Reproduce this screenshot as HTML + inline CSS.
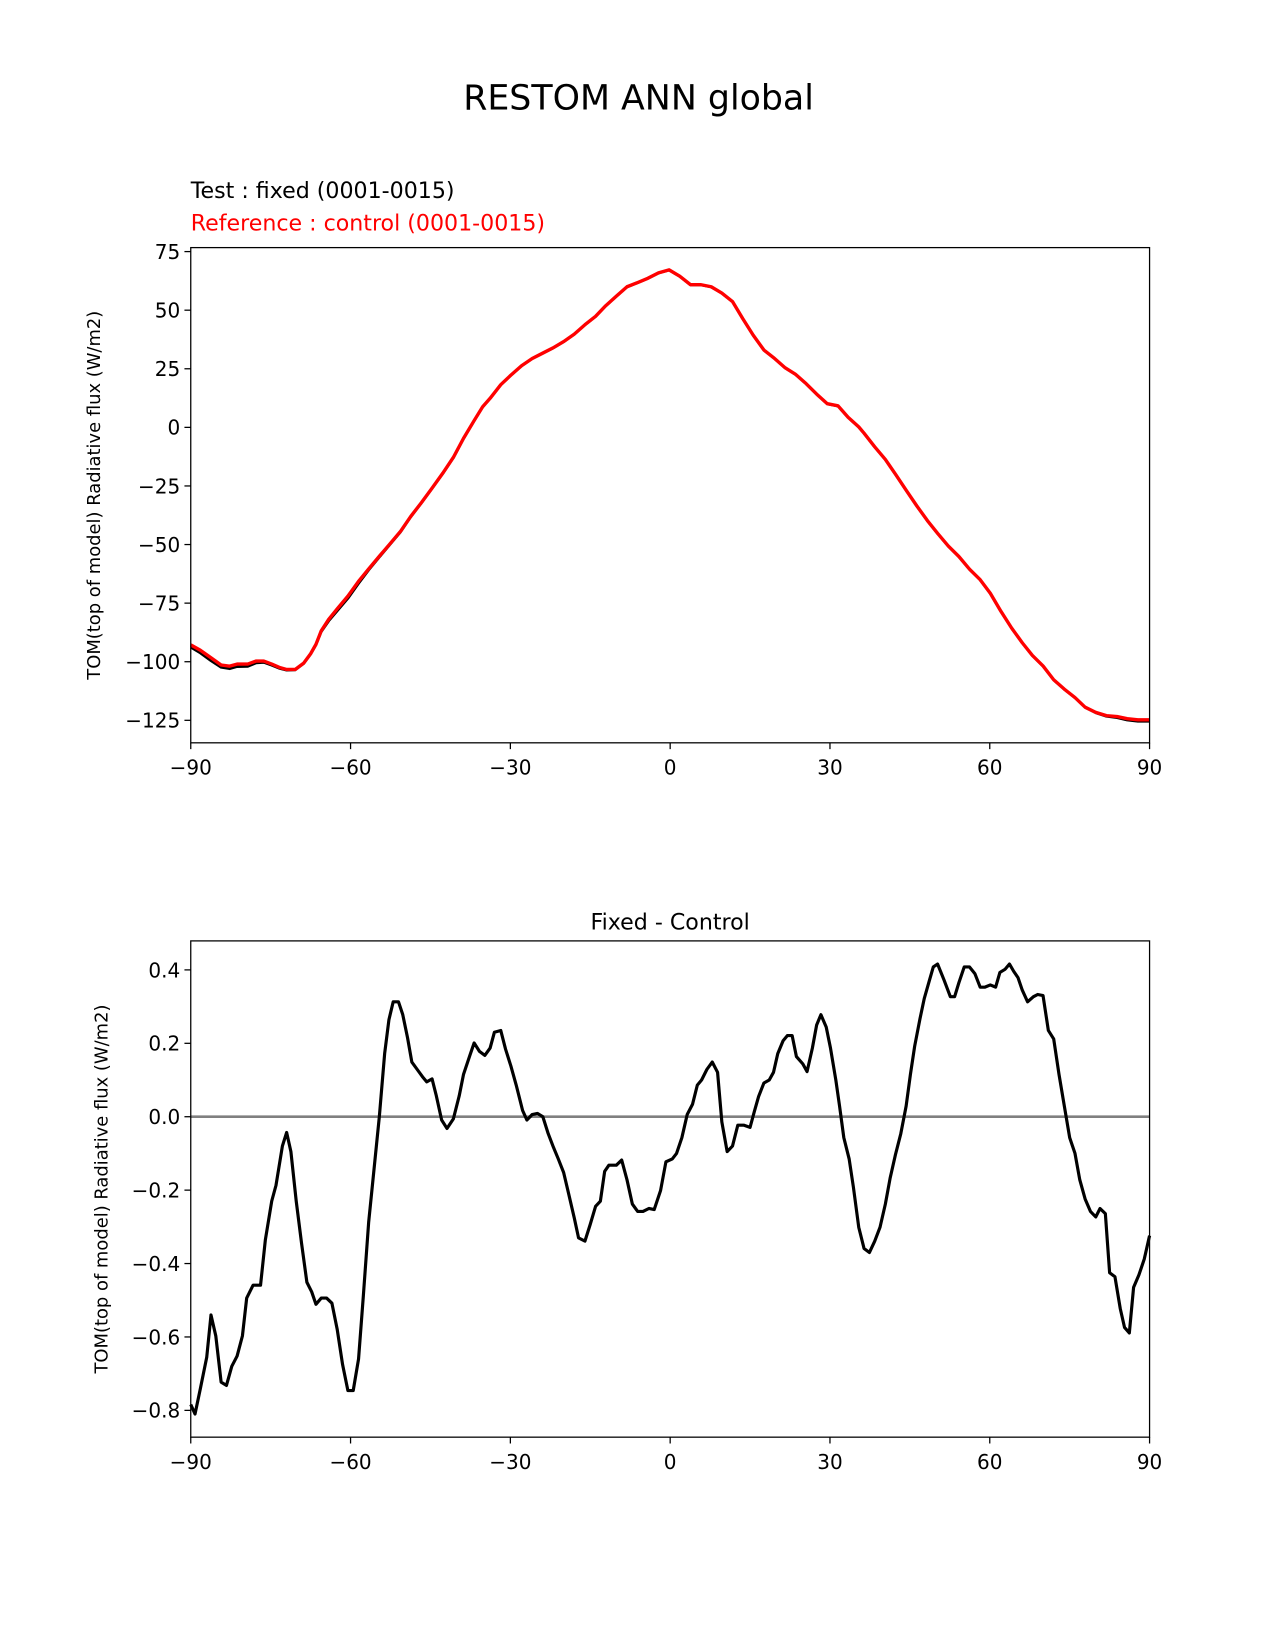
<!DOCTYPE html>
<html><head><meta charset="utf-8"><style>
html,body{margin:0;padding:0;background:#fff;}
svg{display:block;font-family:"DejaVu Sans","Liberation Sans",sans-serif;}
</style></head><body>
<svg id="fig" width="1275" height="1650" viewBox="0 0 1210 1566" xmlns="http://www.w3.org/2000/svg">
<rect width="1210" height="1566" fill="#fff"/>
<text x="606" y="104" font-size="33" text-anchor="middle">RESTOM ANN global</text>
<text x="181" y="188" font-size="21">Test : fixed (0001-0015)</text>
<text x="181" y="219" font-size="21" fill="#ff0000">Reference : control (0001-0015)</text>
<text x="636" y="882" font-size="21" text-anchor="middle">Fixed - Control</text>
<g id="top"></g>
<g id="bot"></g>
</svg>
<script>
const topLat=[-90,-88.2,-86.2,-84.3,-82.7,-81.3,-79.3,-77.7,-76.3,-74.8,-73.4,-72,-70.4,-68.8,-67.5,-66.5,-65.5,-64.1,-62.5,-60.5,-58.5,-56.6,-54.6,-52.6,-50.6,-48.7,-46.7,-44.7,-42.7,-40.7,-38.8,-36.8,-35.2,-33.8,-31.8,-29.9,-27.9,-25.9,-23.9,-22,-20,-18,-16,-14,-12.1,-10.1,-8.1,-6.1,-4.2,-2.2,-0.2,1.8,3.8,5.7,7.7,9.7,11.7,13.6,15.6,17.6,19.6,21.6,23.5,25.5,27.5,29.5,31.5,33.4,35.4,36.4,38.4,40.4,42.3,44.3,46.3,48.3,50.2,52.2,54.2,56.2,58.2,60.1,62.1,64.1,66.1,68,70,72,74,76,77.9,79.9,81.9,83.9,85.8,87.8,90];
const refVals=[-92.8,-95.1,-98.3,-101.4,-101.9,-101,-101,-99.7,-99.7,-101,-102.4,-103.3,-103.3,-100.6,-96.6,-92.6,-86.8,-81.9,-77.4,-72,-65.7,-60.4,-55,-49.7,-44.3,-38,-32.1,-25.9,-19.6,-12.8,-4.7,2.9,8.8,12.4,18.2,22.3,26.3,29.4,31.7,33.9,36.6,39.8,43.8,47.4,51.9,56,60,61.8,63.6,65.9,67.2,64.5,60.9,60.9,60,57.3,53.7,46.5,39.3,33,29.4,25.4,22.7,18.7,14.2,10.1,9.2,4.3,0.2,-2.5,-8.3,-13.7,-20,-26.8,-33.5,-39.8,-45.2,-50.6,-55.1,-60.5,-65,-70.8,-78.5,-85.6,-91.9,-97.3,-101.8,-107.7,-111.7,-115.3,-119.4,-121.6,-123,-123.4,-124.3,-124.8,-124.8];
const testVals=[-93.8,-96.3,-99.6,-102.4,-103,-102.1,-102,-100.5,-100.3,-101.5,-102.8,-103.6,-103.5,-100.8,-96.8,-92.8,-87.2,-82.6,-78.3,-73,-66.6,-60.9,-55.4,-50,-44.6,-38.2,-32.3,-26.1,-19.8,-13,-4.9,2.8,8.7,12.3,18.1,22.2,26.2,29.3,31.6,33.8,36.5,39.7,43.7,47.3,51.8,55.9,59.9,61.7,63.5,65.8,67.1,64.4,60.8,60.8,59.9,57.2,53.6,46.4,39.2,32.9,29.3,25.3,22.6,18.6,14.1,10,9.1,4.2,0.1,-2.6,-8.4,-13.8,-20.1,-26.9,-33.6,-39.9,-45.3,-50.7,-55.2,-60.6,-65.1,-70.9,-78.6,-85.7,-92,-97.4,-101.9,-107.8,-111.8,-115.4,-119.5,-121.8,-123.3,-123.9,-124.9,-125.4,-125.4];
const botLat=[-90,-89.2,-88.2,-87,-86.2,-85.3,-84.3,-83.3,-82.3,-81.3,-80.3,-79.5,-78.3,-76.9,-76,-74.8,-74,-72.8,-72,-71.2,-70.2,-69.2,-68.2,-67.3,-66.5,-65.5,-64.5,-63.5,-62.5,-61.5,-60.5,-59.5,-58.5,-57.6,-56.6,-55.6,-54.6,-53.6,-52.8,-52,-51,-50.2,-49.3,-48.5,-47.5,-46.5,-45.7,-44.7,-43.9,-42.9,-41.9,-40.7,-39.6,-38.8,-37.6,-36.8,-35.8,-34.8,-33.8,-33,-31.8,-30.9,-29.9,-28.9,-27.7,-26.9,-25.9,-24.9,-23.9,-22.9,-22,-21,-20,-19.2,-18,-17.2,-16,-15,-14,-13.1,-12.3,-11.5,-10.1,-9.1,-8.1,-7.1,-6.1,-5.1,-4,-3,-1.8,-0.8,0.4,1.2,2.2,3.2,4.2,5.1,5.9,6.9,7.9,8.9,9.7,10.7,11.7,12.7,13.8,15,15.8,16.6,17.6,18.6,19.4,20.2,21.2,22,22.9,23.7,24.9,25.7,26.7,27.5,28.3,29.3,30.1,31.1,31.8,32.6,33.6,34.4,35.4,36.4,37.4,38.4,39.4,40.4,41.3,42.3,43.3,44.3,45.1,45.9,46.9,47.7,48.7,49.4,50.2,51.4,52.6,53.4,54.2,55.2,56.2,57.2,58.2,59.1,60.1,61.1,61.9,62.9,63.7,64.5,65.3,66.1,67.1,68.2,69,70,71,72,73,74,75,76,76.9,77.9,78.9,79.9,80.7,81.7,82.5,83.5,84.5,85.3,86.2,87,88,89,90];
const diffVals=[-0.784,-0.81,-0.741,-0.655,-0.54,-0.597,-0.723,-0.732,-0.68,-0.652,-0.597,-0.494,-0.459,-0.459,-0.336,-0.23,-0.187,-0.08,-0.043,-0.095,-0.23,-0.345,-0.451,-0.477,-0.511,-0.494,-0.494,-0.508,-0.58,-0.675,-0.746,-0.746,-0.66,-0.488,-0.287,-0.144,0,0.172,0.264,0.313,0.313,0.278,0.215,0.149,0.129,0.109,0.095,0.103,0.057,-0.009,-0.032,-0.006,0.057,0.115,0.167,0.201,0.178,0.167,0.187,0.23,0.235,0.184,0.138,0.086,0.017,-0.009,0.006,0.009,0,-0.046,-0.08,-0.115,-0.152,-0.201,-0.276,-0.33,-0.339,-0.293,-0.244,-0.23,-0.149,-0.132,-0.132,-0.118,-0.172,-0.238,-0.258,-0.258,-0.25,-0.253,-0.201,-0.123,-0.115,-0.1,-0.057,0.006,0.034,0.086,0.1,0.129,0.149,0.121,-0.014,-0.095,-0.08,-0.023,-0.023,-0.029,0.014,0.055,0.092,0.1,0.121,0.172,0.207,0.221,0.221,0.164,0.144,0.123,0.187,0.25,0.278,0.244,0.187,0.1,0.029,-0.057,-0.115,-0.192,-0.301,-0.359,-0.37,-0.339,-0.301,-0.238,-0.167,-0.103,-0.046,0.029,0.115,0.192,0.267,0.322,0.373,0.408,0.416,0.373,0.327,0.327,0.365,0.408,0.408,0.39,0.353,0.353,0.359,0.353,0.393,0.402,0.416,0.396,0.379,0.345,0.313,0.327,0.333,0.33,0.235,0.212,0.115,0.029,-0.057,-0.1,-0.172,-0.224,-0.258,-0.273,-0.25,-0.264,-0.425,-0.436,-0.523,-0.574,-0.589,-0.465,-0.431,-0.388,-0.324];
const xTicks=[-90,-60,-30,0,30,60,90];
const xTickLabels=["\u221290","\u221260","\u221230","0","30","60","90"];
const topYTicks=[75,50,25,0,-25,-50,-75,-100,-125];
const topYTickLabels=["75","50","25","0","\u221225","\u221250","\u221275","\u2212100","\u2212125"];
const botYTicks=[0.4,0.2,0,-0.2,-0.4,-0.6,-0.8];
const botYTickLabels=["0.4","0.2","0.0","\u22120.2","\u22120.4","\u22120.6","\u22120.8"];

const NS="http://www.w3.org/2000/svg";
function mk(parent,tag,attrs){const e=document.createElementNS(NS,tag);for(const k in attrs)e.setAttribute(k,attrs[k]);parent.appendChild(e);return e;}
function buildAxes(g,box,ymin,ymax,yT,yL,ylab,labX){
  const X=v=>box.x0+(v+90)/180*(box.x1-box.x0);
  const Y=v=>box.y1-(v-ymin)/(ymax-ymin)*(box.y1-box.y0);
  xTicks.forEach((t,i)=>{
    const l=mk(g,'line',{x1:X(t),x2:X(t),y1:box.y1,y2:box.y1+6,stroke:'#000','stroke-width':1.2});
    
    
    const tx=mk(g,'text',{x:X(t),y:box.y1+30,'font-size':19,'text-anchor':'middle'});
    tx.textContent=xTickLabels[i];
    
    
  });
  yT.forEach((t,i)=>{
    const l=mk(g,'line',{x1:box.x0-6,x2:box.x0,y1:Y(t),y2:Y(t),stroke:'#000','stroke-width':1.2});
    
    
    const tx=mk(g,'text',{x:box.x0-10,y:Y(t)+7,'font-size':19,'text-anchor':'end'});
    tx.textContent=yL[i];
    
    
  });
  const cy=(box.y0+box.y1)/2;
  const yl=mk(g,'text',{x:labX,y:cy,'font-size':17,'text-anchor':'middle',transform:`rotate(-90 ${labX} ${cy})`});
  yl.textContent=ylab;
  
  
  return {X,Y};
}
function line(g,lat,vals,ax,color,w,name){
  const d=lat.map((la,i)=>(i?'L':'M')+ax.X(la).toFixed(2)+' '+ax.Y(vals[i]).toFixed(2)).join(' ');
  const p=mk(g,'path',{d:d,fill:'none',stroke:color,'stroke-width':w,'stroke-linejoin':'round'});
  
  
}
function frame(g,box){
  const r=mk(g,'rect',{x:box.x0,y:box.y0,width:box.x1-box.x0,height:box.y1-box.y0,fill:'none',stroke:'#000','stroke-width':1.2});
  
  
}
const tg=document.getElementById('top');
const tb={x0:181,x1:1091,y0:235,y1:705};
const ta=buildAxes(tg,tb,-134.6,76.7,topYTicks,topYTickLabels,'TOM(top of model) Radiative flux (W/m2)',95);
line(tg,topLat,testVals,ta,'#000',2.5,'test-line');
line(tg,topLat,refVals,ta,'#ff0000',3.2,'reference-line');
frame(tg,tb);
const bg=document.getElementById('bot');
const bb={x0:181,x1:1091,y0:893,y1:1364};
const ba=buildAxes(bg,bb,-0.873,0.479,botYTicks,botYTickLabels,'TOM(top of model) Radiative flux (W/m2)',102);
const z=mk(bg,'line',{x1:bb.x0,x2:bb.x1,y1:ba.Y(0),y2:ba.Y(0),stroke:'#808080','stroke-width':2.5});


line(bg,botLat,diffVals,ba,'#000',3,'difference-line');
frame(bg,bb);
</script>
</body></html>
